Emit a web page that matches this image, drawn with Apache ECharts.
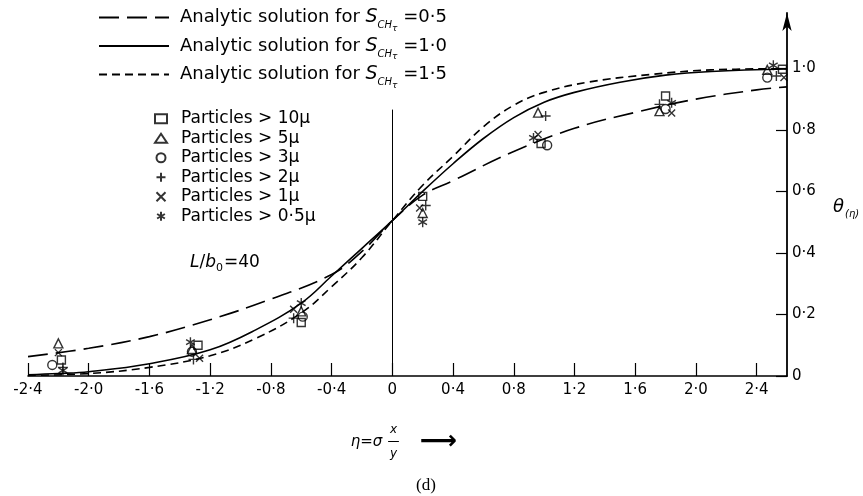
<!DOCTYPE html>
<html>
<head>
<meta charset="utf-8">
<script src="https://cdn.jsdelivr.net/npm/echarts@6/dist/echarts.min.js"></script>
<style>html,body{margin:0;padding:0;background:#fff}#c{width:863px;height:496px}</style>
</head>
<body>
<div id="c"></div>
<script>
// Tick values
const etaTicks = [-2.4, -2.0, -1.6, -1.2, -0.8, -0.4, 0, 0.4, 0.8, 1.2, 1.6, 2.0, 2.4];
const thetaTicks = [0, 0.2, 0.4, 0.6, 0.8, 1.0];

// Analytic solution curves [eta, theta]
const curveS05 = [[-2.4,0.063],[-2.0,0.09],[-1.6,0.128],[-1.2,0.183],[-0.8,0.25],[-0.4,0.33],[-0.2,0.405],[0,0.505],[0.2,0.588],[0.4,0.635],[0.8,0.73],[1.2,0.805],[1.6,0.857],[2.0,0.9],[2.4,0.93],[2.6,0.94]];
const curveS10 = [[-2.4,0.004],[-2.2,0.008],[-2.0,0.014],[-1.6,0.04],[-1.2,0.085],[-0.9,0.15],[-0.6,0.237],[-0.4,0.325],[-0.2,0.415],[0,0.505],[0.2,0.6],[0.4,0.69],[0.6,0.772],[0.8,0.84],[1.0,0.89],[1.2,0.922],[1.5,0.955],[1.8,0.978],[2.1,0.99],[2.6,0.998]];
const curveS15 = [[-2.4,0.002],[-2.0,0.008],[-1.6,0.028],[-1.2,0.066],[-0.9,0.122],[-0.6,0.205],[-0.4,0.29],[-0.2,0.385],[0,0.505],[0.2,0.62],[0.4,0.714],[0.6,0.81],[0.8,0.88],[1.0,0.922],[1.3,0.956],[1.7,0.98],[2.1,0.995],[2.6,0.999]];

// Measured points [eta, theta]
const p10 = [[-2.18,0.052],[-1.28,0.10],[-0.6,0.174],[0.2,0.584],[0.98,0.756],[1.8,0.91],[2.57,0.997]];
const p5  = [[-2.2,0.106],[-1.32,0.088],[-0.6,0.21],[0.2,0.53],[0.96,0.856],[1.76,0.861],[2.47,0.995]];
const p3  = [[-2.24,0.036],[-1.32,0.079],[-0.59,0.193],[1.02,0.75],[1.8,0.868],[2.47,0.97]];
const p2  = [[-2.17,0.028],[-1.31,0.054],[-0.65,0.188],[0.22,0.554],[1.01,0.845],[1.76,0.883],[2.53,0.975]];
const p1  = [[-2.2,0.076],[-1.27,0.058],[-0.65,0.217],[0.18,0.546],[0.96,0.785],[1.84,0.855],[2.58,0.97]];
const p05 = [[-2.17,0.018],[-1.33,0.11],[-0.6,0.237],[0.2,0.50],[0.93,0.774],[1.84,0.888],[2.51,1.01]];

// centre line extent (theta)
const centreLine = [0, 0.866];

const FF = 'DejaVu Sans';
const fmt = v => v === 0 ? '0' : (v < 0 ? '-' : '') + Math.abs(v).toFixed(1).replace('.', '\u00b7');

const lineNames = ['S05', 'S10', 'S15'];
const lineLabels = {
  S05: '0\u00b75', S10: '1\u00b70', S15: '1\u00b75'
};
const ptNames = ['Particles > 10\u03bc', 'Particles > 5\u03bc', 'Particles > 3\u03bc', 'Particles > 2\u03bc', 'Particles > 1\u03bc', 'Particles > 0\u00b75\u03bc'];

const ist = {color: 'transparent', borderColor: '#000', borderWidth: 1.4};
function scat(name, data, symbol, size) {
  return {type: 'scatter', name, data, symbol, symbolSize: size, symbolKeepAspect: true,
          itemStyle: ist, z: 5, silent: true};
}

const chart = echarts.init(document.getElementById('c'), null, {renderer: 'canvas'});
chart.setOption({
  backgroundColor: '#fff',
  animation: false,
  title: [
    {text: '(d)', left: 411, top: 472, textStyle: {fontFamily: 'Liberation Serif', fontSize: 17, fontWeight: 'normal', color: '#000'}},
    {text: '{i|L}{t|/}{i|b}{sub|0}{t|=40}', left: 185, top: 246,
     textStyle: {fontWeight: 'normal', rich: {
       i: {fontFamily: FF, fontStyle: 'italic', fontWeight: 'normal', fontSize: 17, color: '#000'},
       t: {fontFamily: FF, fontWeight: 'normal', fontSize: 17, color: '#000'},
       sub: {fontFamily: FF, fontWeight: 'normal', fontSize: 11, color: '#000', padding: [12, 1, 0, 0]}
     }}}
  ],
  legend: [
    {
      data: lineNames, orient: 'vertical', left: 93, top: 3, itemWidth: 70, itemHeight: 12, itemGap: 3.5,
      selectedMode: false,
      itemStyle: {color: 'transparent', borderColor: 'transparent', borderWidth: 0},
      formatter: n => '{t|Analytic solution for }{s|S}{sub|CH}{sub2|\u03c4}{t| =' + lineLabels[n] + '}',
      textStyle: {rich: {
        t: {fontFamily: FF, fontSize: 18, color: '#000', padding: [0, 0, 0, 0]},
        s: {fontFamily: FF, fontSize: 19, fontStyle: 'italic', color: '#000'},
        sub: {fontFamily: FF, fontSize: 10, fontStyle: 'italic', color: '#000', padding: [16, 0, 0, 0]},
        sub2: {fontFamily: FF, fontSize: 9, fontStyle: 'italic', color: '#000', padding: [22, 0, 0, 0]}
      }, padding: [0, 0, 0, 6]}
    },
    {
      data: ptNames, orient: 'vertical', left: 149, top: 104, itemWidth: 12, itemHeight: 9, itemGap: 0,
      selectedMode: false,
      textStyle: {fontFamily: FF, fontSize: 17, color: '#000', lineHeight: 19.5, padding: [0, 0, 0, 9]}
    }
  ],
  grid: {left: 28, right: 76, top: 13, bottom: 120, containLabel: false},
  xAxis: {
    type: 'value', min: -2.4, max: 2.6, interval: 0.4,
    name: '{a| }{f|x}{r| }\n{a|\u03b7=\u03c3}{f|\u2014}{r|\u27f6}\n{a| }{f|y}{r| }',
    nameLocation: 'middle', nameGap: 48,
    nameTextStyle: {rich: {
      a: {fontFamily: FF, fontSize: 15, fontStyle: 'italic', color: '#000', width: 40, align: 'right', lineHeight: 12},
      f: {fontFamily: FF, fontSize: 12, fontStyle: 'italic', color: '#000', width: 14, align: 'center', lineHeight: 12},
      r: {fontFamily: FF, fontSize: 26, fontWeight: 'bold', color: '#000', width: 60, align: 'left', lineHeight: 12, padding: [0, 0, 0, 8]}
    }},
    axisLine: {onZero: false, lineStyle: {color: '#000', width: 1.6}},
    axisTick: {show: true, inside: true, length: 13, customValues: etaTicks, lineStyle: {color: '#000', width: 1.2}},
    axisLabel: {customValues: etaTicks, formatter: fmt, fontFamily: FF, fontSize: 15, color: '#000', margin: 7},
    splitLine: {show: false}
  },
  yAxis: {
    type: 'value', min: 0, max: 1.18, interval: 0.2, position: 'right',
    name: '{th|\u03b8}{sub|(\u03b7)}', nameLocation: 'middle', nameGap: 46, nameRotate: 0,
    nameTextStyle: {align: 'left', padding: [26, 0, 0, 0], rich: {
      th: {fontFamily: FF, fontSize: 18, fontStyle: 'italic', color: '#000'},
      sub: {fontFamily: FF, fontSize: 10, fontStyle: 'italic', color: '#000', padding: [14, 0, 0, 1]}
    }},
    axisLine: {show: true, onZero: false, symbol: ['none', 'arrow'], symbolSize: [7, 18], lineStyle: {color: '#000', width: 1.8}},
    axisTick: {show: true, inside: true, length: 11, customValues: thetaTicks, lineStyle: {color: '#000', width: 1.2}},
    axisLabel: {customValues: thetaTicks, formatter: fmt, fontFamily: FF, fontSize: 15, color: '#000', margin: 5},
    splitLine: {show: false}
  },
  series: [
    {type: 'line', name: 'S05', data: curveS05, smooth: 0.4, symbol: 'none', silent: true,
     lineStyle: {color: '#000', width: 1.6, type: [20, 8]}, itemStyle: {color: '#000'}},
    {type: 'line', name: 'S10', data: curveS10, smooth: 0.4, symbol: 'none', silent: true,
     lineStyle: {color: '#000', width: 1.6, type: 'solid'}, itemStyle: {color: '#000'},
     markLine: {silent: true, symbol: ['none', 'none'], label: {show: false},
       lineStyle: {color: '#000', width: 1, type: 'solid'},
       data: [[{coord: [0, centreLine[0]]}, {coord: [0, centreLine[1]]}]]}},
    {type: 'line', name: 'S15', data: curveS15, smooth: 0.4, symbol: 'none', silent: true,
     lineStyle: {color: '#000', width: 1.6, type: [8, 5]}, itemStyle: {color: '#000'}},
    scat(ptNames[0], p10, 'rect', 8),
    scat(ptNames[1], p5, 'triangle', 9),
    scat(ptNames[2], p3, 'circle', 9),
    scat(ptNames[3], p2, 'path://M5,0L5,10M0,5L10,5', 10),
    scat(ptNames[4], p1, 'path://M0,0L10,10M10,0L0,10', 7),
    scat(ptNames[5], p05, 'path://M5,0L5,10M0.67,2.5L9.33,7.5M0.67,7.5L9.33,2.5', 10)
  ]
});
</script>
</body>
</html>
